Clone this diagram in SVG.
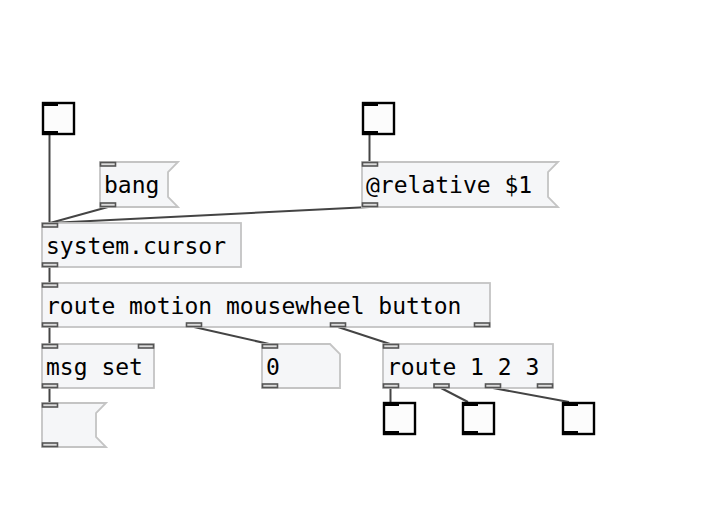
<svg xmlns="http://www.w3.org/2000/svg" width="721" height="507" viewBox="0 0 721 507">
<style>
.box{fill:#f5f6f8;stroke:#c4c4c4;stroke-width:1.8}
.io{fill:#dcdcdc;stroke:#555;stroke-width:1.6}
.bng{fill:#fcfcfc;stroke:#000;stroke-width:2.4}
.bar{fill:#000}
.t{font-family:"DejaVu Sans Mono","Liberation Mono",monospace;font-size:23px;fill:#000}
.c{stroke:#444;stroke-width:2;fill:none}
</style>
<rect width="721" height="507" fill="#fff"/>
<g id="connectors">
<line class="c" x1="49.5" y1="134" x2="49.5" y2="223"/>
<line class="c" x1="108" y1="207" x2="50" y2="223"/>
<line class="c" x1="369.5" y1="207" x2="50" y2="223"/>
<line class="c" x1="369.5" y1="134" x2="369.5" y2="162"/>
<line class="c" x1="49.5" y1="267" x2="49.5" y2="283"/>
<line class="c" x1="49.5" y1="327" x2="49.5" y2="344"/>
<line class="c" x1="194" y1="327" x2="269" y2="344"/>
<line class="c" x1="338" y1="327" x2="390" y2="344"/>
<line class="c" x1="49.5" y1="388" x2="49.5" y2="403"/>
<line class="c" x1="390.5" y1="388" x2="390.5" y2="402"/>
<line class="c" x1="441" y1="388" x2="468" y2="402"/>
<line class="c" x1="493" y1="388" x2="569" y2="402"/>
</g>
<g id="bang1">
<rect class="bng" x="43" y="103" width="31" height="31"/>
<rect class="bar" x="42" y="102" width="16" height="4"/>
<rect class="bar" x="42" y="131" width="16" height="4"/>
</g>
<g id="bang2">
<rect class="bng" x="363" y="103" width="31" height="31"/>
<rect class="bar" x="362" y="102" width="16" height="4"/>
<rect class="bar" x="362" y="131" width="16" height="4"/>
</g>
<g id="msg-bang">
<polygon class="box" points="100,162 178,162 168,172 168,197 178,207 100,207"/>
<text class="t" x="104" y="193">bang</text>
<rect class="io" x="100.5" y="162.5" width="15" height="3.5"/>
<rect class="io" x="100.5" y="203" width="15" height="3.5"/>
</g>
<g id="msg-relative">
<polygon class="box" points="362,162 558,162 548,172 548,197 558,207 362,207"/>
<text class="t" x="366" y="193">@relative $1</text>
<rect class="io" x="362.5" y="162.5" width="15" height="3.5"/>
<rect class="io" x="362.5" y="203" width="15" height="3.5"/>
</g>
<g id="system-cursor">
<rect class="box" x="42" y="223" width="199" height="44"/>
<text class="t" x="46" y="253.5">system.cursor</text>
<rect class="io" x="42.5" y="223.5" width="15" height="3.5"/>
<rect class="io" x="42.5" y="263" width="15" height="3.5"/>
</g>
<g id="route-main">
<rect class="box" x="42" y="283" width="448" height="44"/>
<text class="t" x="46" y="314">route motion mousewheel button</text>
<rect class="io" x="42.5" y="283.5" width="15" height="3.5"/>
<rect class="io" x="42.5" y="323" width="15" height="3.5"/>
<rect class="io" x="186.5" y="323" width="15" height="3.5"/>
<rect class="io" x="330.5" y="323" width="15" height="3.5"/>
<rect class="io" x="474.5" y="323" width="15" height="3.5"/>
</g>
<g id="msg-set">
<rect class="box" x="42" y="344" width="112" height="44"/>
<text class="t" x="46" y="375">msg set</text>
<rect class="io" x="42.5" y="344.5" width="15" height="3.5"/>
<rect class="io" x="138.5" y="344.5" width="15" height="3.5"/>
<rect class="io" x="42.5" y="384" width="15" height="3.5"/>
</g>
<g id="number">
<polygon class="box" points="262,344 330,344 340,354 340,388 262,388"/>
<text class="t" x="266" y="375">0</text>
<rect class="io" x="262.5" y="344.5" width="15" height="3.5"/>
<rect class="io" x="262.5" y="384" width="15" height="3.5"/>
</g>
<g id="route-123">
<rect class="box" x="383" y="344" width="170" height="44"/>
<text class="t" x="387" y="375">route 1 2 3</text>
<rect class="io" x="383.5" y="344.5" width="15" height="3.5"/>
<rect class="io" x="383.5" y="384" width="15" height="3.5"/>
<rect class="io" x="434" y="384" width="15" height="3.5"/>
<rect class="io" x="485.5" y="384" width="15" height="3.5"/>
<rect class="io" x="537.5" y="384" width="15" height="3.5"/>
</g>
<g id="msg-empty">
<polygon class="box" points="42,403 106,403 96,413 96,437 106,447 42,447"/>
<rect class="io" x="42.5" y="403.5" width="15" height="3.5"/>
<rect class="io" x="42.5" y="443" width="15" height="3.5"/>
</g>
<g id="bang3">
<rect class="bng" x="384" y="403" width="31" height="31"/>
<rect class="bar" x="383" y="402" width="16" height="4"/>
<rect class="bar" x="383" y="431" width="16" height="4"/>
</g>
<g id="bang4">
<rect class="bng" x="463" y="403" width="31" height="31"/>
<rect class="bar" x="462" y="402" width="16" height="4"/>
<rect class="bar" x="462" y="431" width="16" height="4"/>
</g>
<g id="bang5">
<rect class="bng" x="563" y="403" width="31" height="31"/>
<rect class="bar" x="562" y="402" width="16" height="4"/>
<rect class="bar" x="562" y="431" width="16" height="4"/>
</g>
</svg>
